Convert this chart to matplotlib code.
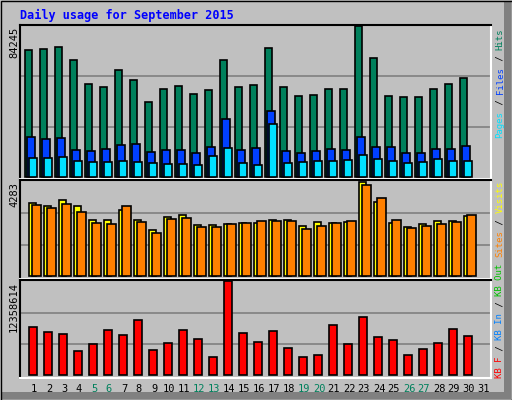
import matplotlib
matplotlib.use('Agg')
import matplotlib.pyplot as plt
import numpy as np
from matplotlib.patches import Rectangle

days = np.arange(1, 32)
hits = [70760, 71320, 72450, 65150, 51670, 49980, 59530, 53910, 42120, 48860,
        50540, 46050, 48300, 65150, 49980, 51110, 71890, 49980, 44930, 45490,
        48860, 48860, 84245, 66270, 44930, 44370, 44370, 48860, 51670, 55040, 0]
files = [22460, 21340, 21900, 15160, 14600, 15720, 17970, 18530, 14040, 15160,
         15160, 13480, 16850, 32570, 15160, 16290, 37070, 14600, 13480, 14600,
         15720, 15160, 22460, 16850, 16850, 13480, 13480, 15720, 15720, 17410, 0]
pages = [10670, 10670, 11230, 8990, 8420, 8420, 8990, 8420, 7860, 7300,
         7300, 6740, 11790, 16290, 7860, 6740, 29760, 7860, 8420, 8990,
         8990, 9550, 12360, 10110, 8990, 7860, 8420, 10110, 8990, 8990, 0]
visits = [3326, 3189, 3463, 3189, 2551, 2551, 3007, 2551, 2096, 2688,
          2779, 2324, 2324, 2369, 2415, 2415, 2551, 2551, 2278, 2460,
          2415, 2460, 4283, 3371, 2415, 2232, 2369, 2506, 2506, 2734, 0]
sites = [3235, 3098, 3280, 2916, 2415, 2369, 3189, 2460, 1959, 2597,
         2642, 2232, 2232, 2369, 2415, 2506, 2506, 2506, 2141, 2278,
         2415, 2506, 4146, 3554, 2551, 2187, 2278, 2369, 2460, 2779, 0]
kbytes = [6408e3, 5754e3, 5493e3, 3269e3, 4185e3, 6016e3, 5362e3, 7324e3, 3400e3, 4316e3,
          6016e3, 4839e3, 2354e3, 12358614, 5624e3, 4447e3, 5885e3, 3662e3, 2354e3, 2616e3,
          6670e3, 4185e3, 7716e3, 5100e3, 4708e3, 2616e3, 3531e3, 4316e3, 6147e3, 5231e3, 0]
weekends = [5, 6, 12, 13, 19, 20, 26, 27]

W, H = 512, 400
BG = '#c0c0c0'
MONO = 'DejaVu Sans Mono'

fig = plt.figure(figsize=(W / 100, H / 100), dpi=100)
fig.patch.set_facecolor(BG)


def px_axes(x0, y0, x1, y1):
    return fig.add_axes([x0 / W, 1 - y1 / H, (x1 - x0) / W, (y1 - y0) / H])


# outer frame with bevel
frame = fig.add_axes([0, 0, 1, 1])
frame.set_xlim(0, W)
frame.set_ylim(H, 0)
frame.axis('off')
frame.add_patch(Rectangle((W - 8, 2), 7, H - 3, color='#808080', lw=0))
frame.add_patch(Rectangle((2, H - 8), W - 3, 7, color='#808080', lw=0))
frame.add_patch(Rectangle((0.5, 0.5), W - 1, H - 1, fill=False, ec='black', lw=1))

# day-unit x scale: day 1 at px 34, step 15 px
left_px, right_px = 20, 491
xl = (1 - 14 / 15, 1 + (right_px - 34) / 15)


def style(ax, ymax, ylim):
    ax.set_facecolor(BG)
    ax.set_xlim(*xl)
    ax.set_ylim(*ylim)
    ax.set_xticks([])
    ax.set_yticks([])
    for v in (ymax / 3, 2 * ymax / 3):
        ax.axhline(v, color='#808080', lw=1.2, zorder=0)
    for s in ax.spines.values():
        s.set_color('black')
        s.set_linewidth(1.5)
    ax.spines['bottom'].set_color('white')
    ax.spines['right'].set_color('white')


def bars(ax, vals, off, width, color):
    vals = np.asarray(vals, dtype=float)
    keep = vals > 0  # days without data get no bar
    ax.bar(days[keep] + off / 15, vals[keep], width=width / 15, align='edge',
           color=color, edgecolor='black', linewidth=1.2, zorder=2)


ax1 = px_axes(left_px, 25, right_px, 179)
style(ax1, 84245, (-1100, 84800))
bars(ax1, hits, -9, 7, '#00805c')
bars(ax1, files, -7, 8, '#0040ff')
bars(ax1, pages, -5, 8, '#00e0ff')

ax2 = px_axes(left_px, 180, right_px, 279)
style(ax2, 4283, (-140, 4374))
bars(ax2, visits, -5, 7, '#ffff00')
bars(ax2, sites, -2, 9, '#ff8000')

ax3 = px_axes(left_px, 280, right_px, 378)
style(ax3, 12358614, (-330000, 12500000))
bars(ax3, kbytes, -5, 8, '#ff0000')

fig.text(20 / W, 1 - 15 / H, 'Daily usage for September 2015', color='#0000ff',
         fontsize=8.5, family=MONO, fontweight='bold', va='center', ha='left')

for txt, top in (('84245', 27), ('4283', 182), ('12358614', 282)):
    fig.text(14 / W, 1 - top / H, txt, rotation=90, fontsize=7.5, family=MONO,
             va='top', ha='center')

for d in days:
    c = '#00805c' if d in weekends else 'black'
    fig.text((34 + (d - 1) * 15) / W, 1 - 389 / H, str(d), color=c, fontsize=7.5,
             family=MONO, ha='center', va='center')


def chain(parts, bottom, step=5.5, x=500):
    y = bottom
    for txt, col in parts:
        fig.text(x / W, 1 - y / H, txt, rotation=90, color=col, fontsize=6.5,
                 family=MONO, ha='center', va='bottom')
        y -= step * len(txt)


chain([('Pages', '#00e0ff'), (' / ', 'black'), ('Files', '#0040ff'),
       (' / ', 'black'), ('Hits', '#00805c')], 138)
chain([('KB F', '#ff0000'), (' / ', 'black'), ('KB In', '#0080ff'),
       (' / ', 'black'), ('KB Out', '#00c000'), (' ', 'black'), ('Sites', '#ff8000'),
       (' / ', 'black'), ('Visits', '#ffff00')], 378)

fig.savefig('out.png', dpi=100, facecolor=BG)
